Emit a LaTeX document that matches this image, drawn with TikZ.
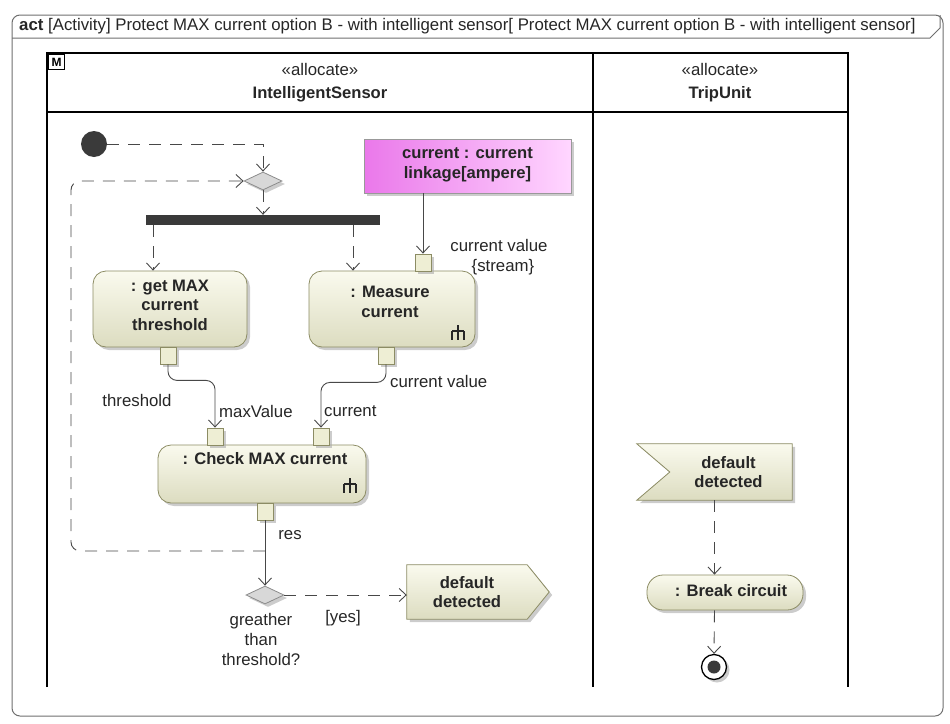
\documentclass[tikz,border=0pt]{standalone}
\usepackage{fontspec}
\setmainfont{Liberation Sans}
\usetikzlibrary{arrows.meta,shadows,shapes.geometric}

\definecolor{actlight}{RGB}{250,250,238}
\definecolor{actdark}{RGB}{220,220,192}
\definecolor{actedge}{RGB}{140,140,100}
\definecolor{pinfill}{RGB}{238,238,212}
\definecolor{objleft}{RGB}{234,120,234}
\definecolor{objright}{RGB}{255,214,255}
\definecolor{flowgray}{RGB}{72,72,72}
\definecolor{framegray}{RGB}{110,110,110}
\definecolor{nodedark}{RGB}{58,58,58}
\definecolor{decfill}{RGB}{216,216,216}
\definecolor{shadowgray}{RGB}{170,170,170}

\pgfdeclarelayer{background}
\pgfsetlayers{background,main}

\tikzset{
  txt/.style={font=\fontsize{16.8}{20}\selectfont, text=black!85, inner sep=0pt, align=center},
  btxt/.style={font=\fontsize{16.6}{19.5}\selectfont\bfseries, text=black!85, inner sep=0pt, align=center},
  soft shadow/.style={drop shadow={shadow xshift=3pt, shadow yshift=-3pt, fill=shadowgray, opacity=0.6}},
  action/.style={draw=actedge, line width=0.8pt, rounded corners=13pt,
    top color=actlight, bottom color=actdark, soft shadow, inner sep=0pt},
  pin/.style={draw=actedge, line width=0.8pt, fill=pinfill, minimum width=16pt,
    minimum height=17pt, inner sep=0pt, soft shadow},
  flow/.style={draw=flowgray, line width=0.9pt, -{Straight Barb[length=7pt, width=13pt]}},
  ctrl/.style={flow, dash pattern=on 12pt off 9pt},
  lane/.style={line width=2.6pt, draw=black},
  decision/.style={diamond, draw=black!45, line width=0.8pt, fill=decfill, minimum width=38pt,
    minimum height=18pt, inner sep=0pt, soft shadow},
  rake/.pic={\draw[line width=1.6pt, black!85] (0,-8) -- (0,-2) (-6,-2) -- (6,-2)
    (-6,-2) -- (-6,7) (0,-2) -- (0,7) (6,-2) -- (6,7);}
}

\begin{document}
\begin{tikzpicture}[x=1pt, y=-1pt]
\useasboundingbox (0,0) rectangle (950,723);

% diagram frame with its name tab
\draw[framegray, line width=1pt, rounded corners=8pt] (12,15) rectangle (943,716);
\draw[framegray, line width=1pt] (12,38) -- (930,38) -- (940,28) -- (940,15);
\node[txt, anchor=west] (title) at (19,26)
  {\textbf{act} [Activity] Protect MAX current option B - with intelligent sensor[ Protect MAX current option B - with intelligent sensor]};

% partitions
\draw[lane] (47,687) -- (47,53) -- (848,53) -- (848,687);
\draw[lane] (47,112) -- (848,112);
\draw[lane] (593,53) -- (593,687);
\node[draw, line width=1.1pt, font=\fontsize{12}{12}\selectfont\bfseries, minimum width=16pt,
  minimum height=15pt, inner sep=0pt, anchor=north west] (mbox) at (48,54) {M};
\node[txt] (st1) at (320,69) {«allocate»};
\node[btxt] (lane1) at (320,94) {IntelligentSensor};
\node[txt] (st2) at (720,69) {«allocate»};
\node[btxt] (lane2) at (720,94) {TripUnit};

% actions
\node[action, minimum width=154pt, minimum height=76pt] (getmax) at (170,309) {};
\node[btxt] (getmaxT) at (170,305) {: get MAX\\current\\threshold};
\node[action, minimum width=166pt, minimum height=76pt] (measure) at (392,309) {};
\node[btxt] (measureT) at (390,302) {: Measure\\current};
\pic at (458,333) {rake};
\node[action, minimum width=208pt, minimum height=58pt] (check) at (262,474) {};
\node[btxt] (checkT) at (265,459) {: Check MAX current};
\pic at (350,486) {rake};
\node[action, rounded corners=16pt, minimum width=156pt, minimum height=35pt] (brk) at (725,592.5) {};
\node[btxt] (brkT) at (731,591) {: Break circuit};

% object node
\node[draw=black!40, line width=0.8pt, left color=objleft, right color=objright, soft shadow,
  minimum width=207pt, minimum height=54pt, inner sep=0pt] (obj) at (467.5,166) {};
\node[btxt] (objT) at (467.5,165) {current : current\\linkage[ampere]};

% pins
\node[pin] (pinm) at (423,262.5) {};
\node[pin] (pgo) at (168,355.5) {};
\node[pin] (pmo) at (386,355.5) {};
\node[pin] (pmv) at (215,436.5) {};
\node[pin] (pcur) at (321,436.5) {};
\node[pin] (pres) at (265,511.5) {};

% control nodes
\node[circle, fill=nodedark, minimum size=26pt, inner sep=0pt] (init) at (94,144) {};
\node[decision] (merge) at (263,181) {};
\node[fill=nodedark, minimum width=234pt, minimum height=10pt, inner sep=0pt] (fork) at (263,220) {};
\node[decision] (dec) at (265,595) {};
\node[circle, draw=black, line width=1.3pt, fill=white, minimum size=25pt, inner sep=0pt, soft shadow] (final) at (714,667) {};
\node[circle, fill=nodedark, minimum size=13pt, inner sep=0pt] (finaldot) at (final) {};

% signals
\node[btxt, minimum width=120pt, minimum height=54pt] (send) at (467,592) {default\\detected};
\node[btxt, minimum width=155pt, minimum height=56pt, text width=120pt] (accept) at (714.5,472)
  {\hspace*{28pt}default\\\hspace*{28pt}detected};
\begin{pgfonlayer}{background}
  \path[draw=actedge, line width=0.8pt, top color=actlight, bottom color=actdark, soft shadow]
    (send.north west) -- (send.north east) -- ([xshift=22pt]send.east) -- (send.south east)
    -- (send.south west) -- cycle;
  \path[draw=actedge, line width=0.8pt, top color=actlight, bottom color=actdark, soft shadow]
    (accept.north west) -- (accept.north east) -- (accept.south east) -- (accept.south west)
    -- ([xshift=33pt]accept.west) -- cycle;
\end{pgfonlayer}

% control flows
\coordinate (g1) at ([xshift=-17pt]getmax.north);
\coordinate (m1) at ([xshift=-39pt]measure.north);
\coordinate (loopbl) at (71,551);
\draw[ctrl] (init) -| (merge.north);
\draw[ctrl] (merge.south) -- (merge.south |- fork.north);
\draw[ctrl] (fork.south -| g1) -- (g1);
\draw[ctrl] (fork.south -| m1) -- (m1);
\draw[ctrl, rounded corners=9pt] (pres.south |- loopbl) -- (loopbl) |- (merge.west);
\draw[ctrl] (dec.east) -- (dec.east -| send.west);
\draw[ctrl] (accept.south) -- (accept.south |- brk.north);
\draw[ctrl] (accept.south |- brk.south) -- (final.north);

% object flows
\draw[flow] (obj.south -| pinm) -- (pinm.north);
\draw[flow, rounded corners=9pt] (pgo.south) -- ++(0,16) -| (pmv.north);
\draw[flow, rounded corners=9pt] (pmo.south) -- ++(0,18) -| (pcur.north);
\draw[flow] (pres.south) -- (pres.south |- dec.north);

% labels
\node[txt] (cvs) at (499,257) {current value\\\hspace*{8pt}\{stream\}};
\node[txt] (thr) at (137,400) {threshold};
\node[txt, anchor=west] (mxv) at (219,411) {maxValue};
\node[txt, anchor=west] (cur) at (324,411) {current};
\node[txt, anchor=west] (cvo) at (390,381) {current value};
\node[txt] (res) at (290,535) {res};
\node[txt] (yes) at (343,618) {[yes]};
\node[txt] (gtt) at (261,639) {greather\\than\\threshold?};
\end{tikzpicture}
\end{document}
